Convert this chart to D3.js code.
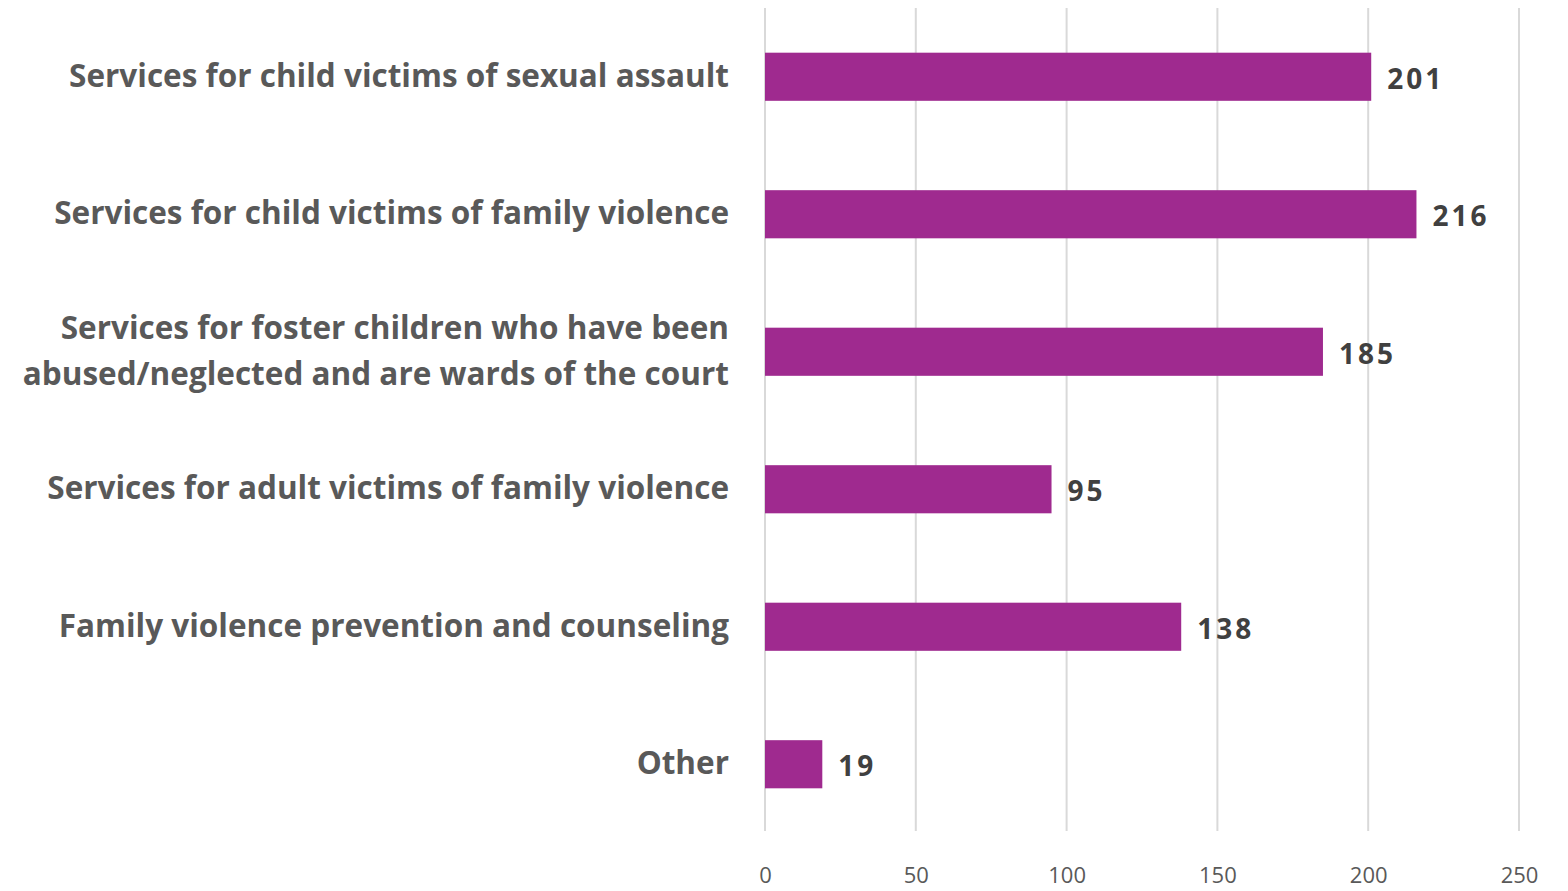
<!DOCTYPE html>
<html>
<head>
<meta charset="utf-8">
<script src="https://cdn.jsdelivr.net/npm/d3@7"></script>
<style>
  html, body { margin: 0; padding: 0; background: #ffffff; }
  svg { display: block; }
</style>
</head>
<body>
<svg id="chart" width="1568" height="891"></svg>
<script>
// Program areas and the number of grants in each
const categories = [
  ["Services for child victims of sexual assault"],
  ["Services for child victims of family violence"],
  ["Services for foster children who have been", "abused/neglected and are wards of the court"],
  ["Services for adult victims of family violence"],
  ["Family violence prevention and counseling"],
  ["Other"]
];
const values = [201, 216, 185, 95, 138, 19];
const xTicks = [0, 50, 100, 150, 200, 250];

const FONT = "'Open Sans', Lato, 'DejaVu Sans', sans-serif";
const svg = d3.select("#chart");

const margin = { left: 765, right: 49, top: 8, bottom: 60 };
const width = 1568, height = 891;
const plotBottom = height - margin.bottom;

const x = d3.scaleLinear().domain([0, 250]).range([margin.left, width - margin.right]);
const y = d3.scaleBand()
  .domain(d3.range(categories.length))
  .range([margin.top, plotBottom + 2])
  .paddingInner(0.65)
  .paddingOuter(0.325);

// vertical gridlines
svg.append("g")
  .selectAll("line")
  .data(xTicks)
  .join("line")
  .attr("x1", d => x(d)).attr("x2", d => x(d))
  .attr("y1", margin.top).attr("y2", plotBottom)
  .attr("stroke", "#d9d9d9")
  .attr("stroke-width", 2);

// x axis tick labels
const xAxis = d3.axisBottom(x).tickValues(xTicks).tickSize(0).tickPadding(0);
const gx = svg.append("g")
  .attr("transform", `translate(0, ${plotBottom + 36})`)
  .call(xAxis);
gx.select(".domain").remove();
gx.selectAll("text")
  .attr("font-family", FONT)
  .attr("font-size", 22)
  .attr("fill", "#595959");

// bars
svg.append("g")
  .selectAll("rect")
  .data(values)
  .join("rect")
  .attr("x", x(0))
  .attr("y", (d, i) => y(i))
  .attr("width", d => x(d) - x(0))
  .attr("height", y.bandwidth())
  .attr("fill", "#9f2a8f");

// value labels
svg.append("g")
  .selectAll("text")
  .data(values)
  .join("text")
  .attr("x", d => x(d) + 16)
  .attr("y", (d, i) => y(i) + y.bandwidth() / 2 + 12)
  .attr("font-family", FONT)
  .attr("font-weight", 700)
  .attr("font-size", 28)
  .attr("letter-spacing", 3)
  .attr("fill", "#404040")
  .text(d => d);

// category labels
const labelGroup = svg.append("g");
categories.forEach((lines, i) => {
  const cy = y(i) + y.bandwidth() / 2;
  const lineH = 46;
  const t = labelGroup.append("text")
    .attr("text-anchor", "end")
    .attr("font-family", FONT)
    .attr("font-weight", 700)
    .attr("font-size", 31.5)
    .attr("fill", "#595959");
  lines.forEach((s, k) => {
    t.append("tspan")
      .attr("x", 729)
      .attr("y", cy + 10 + (k - (lines.length - 1) / 2) * lineH)
      .text(s);
  });
});
</script>
</body>
</html>
